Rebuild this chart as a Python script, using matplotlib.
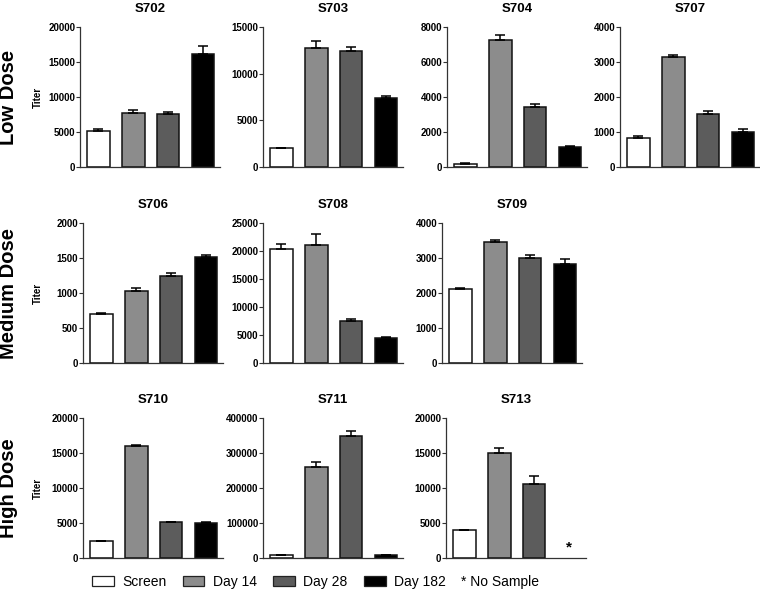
import numpy as np
import matplotlib
matplotlib.use("Agg")
import matplotlib.pyplot as plt
from matplotlib.patches import Patch

plt.rcParams['font.family'] = ['Liberation Sans', 'DejaVu Sans']

# data
panels = ['S702', 'S703', 'S704', 'S707', 'S706', 'S708', 'S709', 'S710', 'S711', 'S713']
groups = ['Screen', 'Day 14', 'Day 28', 'Day 182']
screen = [5200, 2000, 190, 840, 695, 20300, 2120, 2390, 8500, 3960]
day14 = [7680, 12780, 7250, 3130, 1025, 21150, 3460, 16020, 260000, 15050]
day28 = [7550, 12480, 3440, 1520, 1250, 7450, 3000, 5080, 349000, 10580]
day182 = [16100, 7420, 1150, 1000, 1515, 4400, 2840, 5000, 8000, np.nan]
screen_err = [180, 40, 30, 35, 25, 950, 30, 40, 800, 40]
day14_err = [450, 680, 290, 60, 50, 1800, 50, 170, 15000, 620]
day28_err = [330, 380, 180, 80, 30, 320, 90, 110, 13000, 1180]
day182_err = [1150, 180, 30, 95, 35, 200, 120, 80, 1500, np.nan]
ymax = [20000, 15000, 8000, 4000, 2000, 25000, 4000, 20000, 400000, 20000]
ystep = [5000, 5000, 2000, 1000, 500, 5000, 1000, 5000, 100000, 5000]
rows = ['Low Dose', 'Medium Dose', 'High Dose']
panel_row = [0, 0, 0, 0, 1, 1, 1, 2, 2, 2]

colors = ['#ffffff', '#8c8c8c', '#5c5c5c', '#000000']

W, H = 760, 590
fig = plt.figure(figsize=(7.6, 5.9), dpi=100)

# layout in pixels
left_px = [80, 263, 447, 620, 83, 263, 442, 83, 263, 446]
top_px = [27, 223, 418]
ax_w, ax_h = 140, 140

vals = np.array([screen, day14, day28, day182], dtype=float).T
errs = np.array([screen_err, day14_err, day28_err, day182_err], dtype=float).T
x = np.arange(len(groups))

for i, name in enumerate(panels):
    r = panel_row[i]
    ax = fig.add_axes([left_px[i] / W, (H - top_px[r] - ax_h) / H, ax_w / W, ax_h / H])
    v = vals[i]
    e = errs[i]
    ok = ~np.isnan(v)
    ax.bar(x[ok], v[ok], width=0.65, color=np.array(colors)[ok],
           edgecolor='#111111', linewidth=1.1, zorder=2)
    ax.errorbar(x[ok], v[ok], yerr=[np.zeros(ok.sum()), e[ok]], fmt='none',
                ecolor='black', elinewidth=1.1, capsize=3.5, capthick=1.1, zorder=3)
    for j in x[~ok]:
        ax.text(j, ymax[i] * 0.075, '*', ha='center', va='center',
                fontsize=11, fontweight='bold')
    ax.set_xlim(-0.53, 3.49)
    ax.set_ylim(0, ymax[i])
    ax.set_yticks(np.arange(0, ymax[i] + 1, ystep[i]))
    ax.set_xticks([])
    ax.spines['top'].set_visible(False)
    ax.spines['right'].set_visible(False)
    for s in ['left', 'bottom']:
        ax.spines[s].set_color('#333333')
        ax.spines[s].set_linewidth(0.9)
    ax.tick_params(axis='y', length=3, width=0.8, color='#333333', pad=0.5, labelsize=7)
    for lab in ax.get_yticklabels():
        lab.set_fontweight('bold')
    ax.set_title(name, fontsize=9.5, fontweight='bold', pad=11)

for r, label in enumerate(rows):
    yc = 1 - (top_px[r] + ax_h / 2) / H
    fig.text(9 / W, yc, label, rotation=90, ha='center', va='center',
             fontsize=14.5, fontweight='bold')
    fig.text(38 / W, yc, 'Titer', rotation=90, ha='center', va='center',
             fontsize=7, fontweight='bold')

handles = [Patch(facecolor=c, edgecolor='#222222', linewidth=0.9) for c in colors]
fig.legend(handles, groups, loc='center left', bbox_to_anchor=(92 / W, 1 - 582 / H),
           ncol=4, frameon=False, fontsize=10, handlelength=1.55, handleheight=0.7,
           handletextpad=0.6, columnspacing=1.2, borderpad=0, borderaxespad=0)
fig.text(461 / W, 1 - 582 / H, '* No Sample', ha='left', va='center', fontsize=10)

fig.savefig('out.png', dpi=100)
